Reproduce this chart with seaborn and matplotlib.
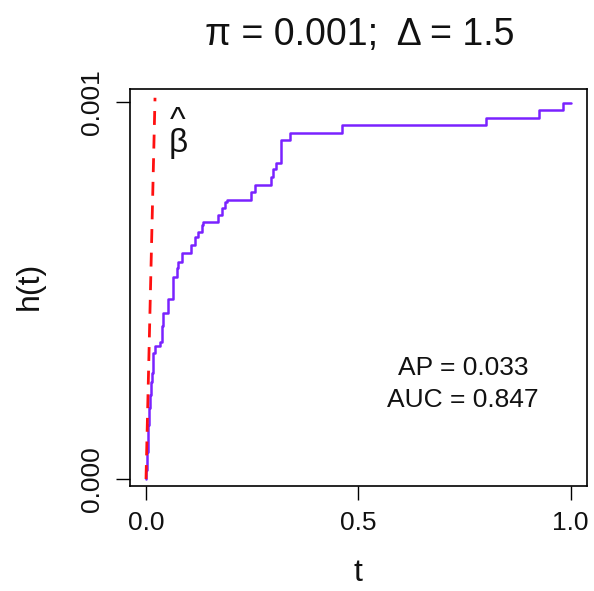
import numpy as np
import pandas as pd
import matplotlib
matplotlib.use("Agg")
import matplotlib.pyplot as plt
import seaborn as sns

# Estimated hazard h(t): jump times and the level reached at each jump
t_jump = [0.0000, 0.0007, 0.0024, 0.0040, 0.0054, 0.0071, 0.0094, 0.0113,
          0.0134, 0.0153, 0.0172, 0.0200, 0.0341, 0.0365, 0.0407, 0.0525,
          0.0643, 0.0723, 0.0765, 0.0841, 0.1065, 0.1154, 0.1232, 0.1312,
          0.1350, 0.1684, 0.1783, 0.1860, 0.1900, 0.2477, 0.2567, 0.2948,
          0.2991, 0.3061, 0.3167, 0.3379, 0.4626, 0.7994, 0.9256, 0.9822,
          1.0000]
h_jump = [0.0000, 0.0239, 0.0716, 0.1034, 0.1432, 0.1883, 0.2228, 0.2573,
          0.2812, 0.3103, 0.3342, 0.3528, 0.3634, 0.4058, 0.4403, 0.4775,
          0.5358, 0.5597, 0.5756, 0.5995, 0.6207, 0.6406, 0.6552, 0.6737,
          0.6830, 0.7003, 0.7188, 0.7347, 0.7401, 0.7613, 0.7798, 0.8011,
          0.8236, 0.8369, 0.8992, 0.9178, 0.9403, 0.9576, 0.9788, 0.9981,
          0.9981]
h_scale = 1e-3

# Reference line h = beta_hat * t
beta_hat = 0.0477
t_beta = [0.0, 0.0212]

x_ticks = [0.0, 0.5, 1.0]
x_ticklabels = ["0.0", "0.5", "1.0"]
y_ticks = [0.0, 0.001]
y_ticklabels = ["0.000", "0.001"]

title = "π = 0.001;  Δ = 1.5"
beta_label = "^\nβ"
ap_text = "AP = 0.033"
auc_text = "AUC = 0.847"

sns.set_style("white")
plt.rcParams["font.family"] = ["Liberation Sans", "DejaVu Sans"]

W, H = 594, 591
fig = plt.figure(figsize=(W / 100, H / 100), dpi=100)
L, R, T, B = 130, 587, 89, 486
ax = fig.add_axes([L / W, 1 - B / H, (R - L) / W, (B - T) / H])

hazard = pd.DataFrame({"t": t_jump, "h": np.array(h_jump) * h_scale})
sns.lineplot(data=hazard, x="t", y="h", drawstyle="steps-post",
             color="#7A22FF", linewidth=1.8, ax=ax, sort=False,
             estimator=None)

ref = pd.DataFrame({"t": t_beta, "h": [beta_hat * v for v in t_beta]})
sns.lineplot(data=ref, x="t", y="h", color="#FF1010", linewidth=2.0,
             ax=ax, sort=False, estimator=None,
             dashes=False, linestyle=(0, (5, 3.5)))

ax.set_xlim(-0.0377, 1.0384)
ax.set_ylim(-0.0000186, 0.0010345)

ax.set_xticks(x_ticks)
ax.set_xticklabels(x_ticklabels)
ax.set_yticks(y_ticks)
ax.set_yticklabels(y_ticklabels, rotation=90, va="center")

ax.tick_params(axis="both", direction="out", length=10, width=1.0,
               color="black", labelsize=19, labelcolor="#111111")
ax.tick_params(axis="x", pad=8)
ax.tick_params(axis="y", pad=9)
ax.tick_params(bottom=True, left=True)

for s in ax.spines.values():
    s.set_visible(True)
    s.set_color("black")
    s.set_linewidth(1.2)

ax.set_xlabel("t", fontsize=23, color="#111111")
ax.set_ylabel("h(t)", fontsize=23, color="#111111")
ax.xaxis.set_label_coords((358 - L) / (R - L), -(558 - B) / (B - T))
ax.yaxis.set_label_coords(-(L - 45) / (R - L), (B - 286) / (B - T))

fig.text(359.5 / W, 1 - 35 / H, title, ha="center", va="center",
         fontsize=27, color="#111111")

# beta-hat annotation: caret stacked over an upright beta
ax.text(0.0755, 0.000849, beta_label, ha="center", va="bottom",
        multialignment="center", linespacing=0.62,
        fontsize=24, color="#111111")

ax.text(0.746, 0.000295, ap_text, ha="center", va="center",
        fontsize=19, color="#111111")
ax.text(0.746, 0.000210, auc_text, ha="center", va="center",
        fontsize=19, color="#111111")

fig.savefig("out.png", dpi=100, facecolor="white")
